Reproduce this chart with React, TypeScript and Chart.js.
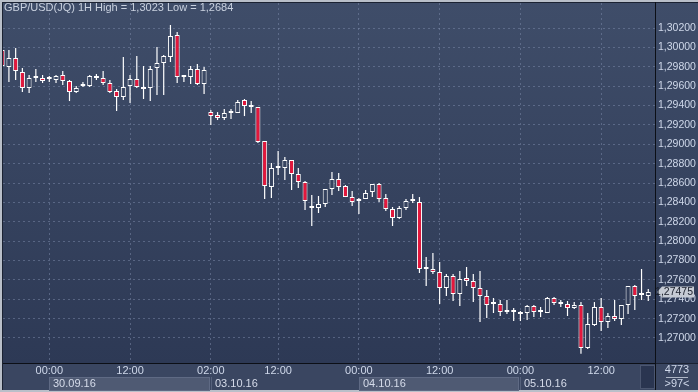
import { useEffect, useRef } from 'react';
import { Chart, registerables } from 'chart.js';

Chart.register(...registerables);

const symbol = 'GBP/USD(JQ)';
const period = '1H';
const totalBars = 4773;

const opens = [
  1.29973, 1.29797, 1.29890, 1.29746, 1.29581, 1.29684, 1.29684, 1.29674, 1.29663, 1.29715,
  1.29653, 1.29539, 1.29601, 1.29601, 1.29704, 1.29684, 1.29632, 1.29550, 1.29488, 1.29601,
  1.29674, 1.29591, 1.29581, 1.29787, 1.29839, 1.29901, 1.30128, 1.29694, 1.29694, 1.29777,
  1.29622, 1.29332, 1.29302, 1.29271, 1.29322, 1.29322, 1.29457, 1.29384, 1.29384, 1.29033,
  1.28559, 1.28755, 1.28755, 1.28837, 1.28693, 1.28610, 1.28342, 1.28342, 1.28383, 1.28538,
  1.28641, 1.28569, 1.28455, 1.28414, 1.28435, 1.28507, 1.28590, 1.28445, 1.28331, 1.28239,
  1.28342, 1.28414, 1.28404, 1.27712, 1.27712, 1.27681, 1.27516, 1.27640, 1.27454, 1.27619,
  1.27588, 1.27516, 1.27433, 1.27351, 1.27351, 1.27268, 1.27268, 1.27268, 1.27258, 1.27330,
  1.27268, 1.27258, 1.27413, 1.27371, 1.27351, 1.27309, 1.27340, 1.26897, 1.27134, 1.27320,
  1.27165, 1.27227, 1.27196, 1.27340, 1.27537, 1.27444, 1.27433,
];
const highs = [
  1.29993, 1.29973, 1.29993, 1.29787, 1.29715, 1.29777, 1.29715, 1.29704, 1.29715, 1.29756,
  1.29663, 1.29601, 1.29643, 1.29715, 1.29725, 1.29756, 1.29663, 1.29570, 1.29901, 1.29715,
  1.29911, 1.29808, 1.29808, 1.30004, 1.29921, 1.30231, 1.30159, 1.29715, 1.29808, 1.29828,
  1.29797, 1.29353, 1.29332, 1.29364, 1.29364, 1.29457, 1.29467, 1.29446, 1.29384, 1.29033,
  1.28806, 1.28930, 1.28868, 1.28837, 1.28755, 1.28621, 1.28476, 1.28466, 1.28538, 1.28713,
  1.28703, 1.28579, 1.28517, 1.28445, 1.28528, 1.28590, 1.28600, 1.28486, 1.28352, 1.28362,
  1.28435, 1.28486, 1.28455, 1.27836, 1.27877, 1.27784, 1.27660, 1.27660, 1.27691, 1.27733,
  1.27660, 1.27691, 1.27495, 1.27413, 1.27392, 1.27392, 1.27309, 1.27278, 1.27340, 1.27340,
  1.27320, 1.27423, 1.27423, 1.27392, 1.27382, 1.27371, 1.27371, 1.27258, 1.27371, 1.27413,
  1.27258, 1.27392, 1.27340, 1.27537, 1.27547, 1.27712, 1.27506,
];
const lows = [
  1.29787, 1.29643, 1.29663, 1.29539, 1.29529, 1.29643, 1.29632, 1.29643, 1.29632, 1.29612,
  1.29446, 1.29529, 1.29591, 1.29591, 1.29663, 1.29612, 1.29529, 1.29343, 1.29457, 1.29426,
  1.29581, 1.29467, 1.29446, 1.29508, 1.29508, 1.29849, 1.29632, 1.29643, 1.29622, 1.29612,
  1.29519, 1.29199, 1.29250, 1.29250, 1.29260, 1.29322, 1.29291, 1.29322, 1.29012, 1.28435,
  1.28445, 1.28682, 1.28631, 1.28528, 1.28548, 1.28321, 1.28156, 1.28290, 1.28352, 1.28476,
  1.28517, 1.28455, 1.28362, 1.28280, 1.28435, 1.28455, 1.28404, 1.28311, 1.28156, 1.28228,
  1.28321, 1.28393, 1.27671, 1.27537, 1.27660, 1.27351, 1.27433, 1.27382, 1.27330, 1.27537,
  1.27371, 1.27165, 1.27206, 1.27258, 1.27227, 1.27247, 1.27175, 1.27175, 1.27186, 1.27216,
  1.27216, 1.27258, 1.27340, 1.27320, 1.27227, 1.27299, 1.26838, 1.26886, 1.27124, 1.27072,
  1.27103, 1.27175, 1.27134, 1.27247, 1.27289, 1.27392, 1.27382,
];
const closes = [
  1.29808, 1.29890, 1.29756, 1.29581, 1.29684, 1.29684, 1.29653, 1.29674, 1.29704, 1.29653,
  1.29539, 1.29581, 1.29601, 1.29704, 1.29684, 1.29632, 1.29539, 1.29488, 1.29591, 1.29674,
  1.29591, 1.29570, 1.29777, 1.29839, 1.29911, 1.30117, 1.29694, 1.29694, 1.29777, 1.29622,
  1.29766, 1.29291, 1.29271, 1.29322, 1.29322, 1.29436, 1.29395, 1.29384, 1.29023, 1.28569,
  1.28755, 1.28755, 1.28837, 1.28693, 1.28610, 1.28414, 1.28342, 1.28383, 1.28538, 1.28641,
  1.28559, 1.28455, 1.28404, 1.28414, 1.28497, 1.28590, 1.28435, 1.28331, 1.28239, 1.28342,
  1.28414, 1.28414, 1.27712, 1.27712, 1.27681, 1.27516, 1.27640, 1.27454, 1.27609, 1.27588,
  1.27516, 1.27433, 1.27340, 1.27351, 1.27268, 1.27268, 1.27268, 1.27247, 1.27330, 1.27268,
  1.27268, 1.27413, 1.27361, 1.27351, 1.27309, 1.27340, 1.26897, 1.27144, 1.27320, 1.27165,
  1.27227, 1.27196, 1.27340, 1.27537, 1.27433, 1.27444, 1.27475,
];

const xTickIndex = [7, 19, 31, 41, 53, 65, 77, 89];
const xTickLabels = ['00:00', '12:00', '02:00', '12:00', '00:00', '12:00', '00:00', '12:00'];
const dateLabels = ['30.09.16', '03.10.16', '04.10.16', '05.10.16'];
const dateStartIndex = [7, 31, 53, 77];
const yTickValues = [
  1.27, 1.272, 1.274, 1.276, 1.278, 1.28, 1.282, 1.284, 1.286, 1.288,
  1.29, 1.292, 1.294, 1.296, 1.298, 1.3, 1.302,
];

const FONT = "'Liberation Sans Narrow', 'Liberation Sans', Arial, sans-serif";
const PLOT_TOP = '#3f4d69';
const PLOT_BOTTOM = '#2d3955';
const GRID = 'rgba(125,140,172,0.5)';
const RED = '#e3173c';
const TEXT = '#cfd8ea';

const fmt = (v: number, d: number) => v.toFixed(d).replace('.', ',');

function plotGradient(chart: any) {
  const { top, bottom } = chart.chartArea;
  const g = chart.ctx.createLinearGradient(0, top, 0, bottom);
  g.addColorStop(0, PLOT_TOP);
  g.addColorStop(1, PLOT_BOTTOM);
  return g;
}

const framePlugin = {
  id: 'frame',
  beforeDraw(chart: any) {
    const ctx = chart.ctx;
    const { left, right, top, bottom } = chart.chartArea;
    const W = chart.width;
    const H = chart.height;
    ctx.save();
    ctx.fillStyle = '#b9bfc9';
    ctx.fillRect(0, 0, W, H);
    ctx.fillStyle = '#1b2232';
    ctx.fillRect(2, 2, W - 2, H - 4);
    const g = plotGradient(chart);
    ctx.fillStyle = g;
    ctx.fillRect(left, top, right - left, bottom - top);
    ctx.fillRect(right + 1, top, W - right - 1, bottom - top);
    ctx.fillStyle = '#3a4661';
    ctx.fillRect(left, bottom + 1, W - left, H - 2 - bottom - 1);
    ctx.restore();
  },
  afterDraw(chart: any) {
    const ctx = chart.ctx;
    const { left, right, bottom } = chart.chartArea;
    const W = chart.width;
    const H = chart.height;
    const xs = chart.scales.x;
    const ys = chart.scales.y;
    ctx.save();
    ctx.font = `11px ${FONT}`;
    ctx.textBaseline = 'middle';
    ctx.textAlign = 'left';
    // date bands
    for (let k = 0; k < dateLabels.length; k++) {
      const x0 = Math.round(xs.getPixelForValue(dateStartIndex[k]));
      const x1 = k + 1 < dateLabels.length ? Math.round(xs.getPixelForValue(dateStartIndex[k + 1])) - 1 : right - 16;
      if (k % 2 === 0) {
        ctx.fillStyle = '#4f5a73';
        ctx.fillRect(x0, 377, x1 - x0, H - 2 - 377);
        ctx.strokeStyle = '#5f6a84';
        ctx.lineWidth = 1;
        ctx.strokeRect(x0 + 0.5, 377.5, x1 - x0 - 1, H - 2 - 377);
      } else {
        ctx.strokeStyle = '#56627c';
        ctx.beginPath();
        ctx.moveTo(x0 + 0.5, 377);
        ctx.lineTo(x0 + 0.5, H - 2);
        ctx.stroke();
      }
      ctx.fillStyle = '#d6dcea';
      ctx.fillText(dateLabels[k], x0 + 4, 383.5);
    }
    // dark block at right end of time axis
    ctx.fillStyle = '#2a3550';
    ctx.fillRect(right - 15, bottom + 2, 15, H - 4 - bottom - 1);
    ctx.strokeStyle = '#4b5670';
    ctx.strokeRect(right - 14.5, bottom + 2.5, 14, H - 5 - bottom - 1);
    // separator lines
    ctx.fillStyle = '#0c0f16';
    ctx.fillRect(left, bottom, right - left, 1);
    ctx.fillRect(right, 2, 1, H - 4);
    // title
    const hi = Math.max(...highs);
    const lo = Math.min(...lows);
    ctx.fillStyle = '#c9d1df';
    ctx.fillText(`${symbol} ${period} High = ${fmt(hi, 4)} Low = ${fmt(lo, 4)}`, 4, 8);
    // price marker
    const last = closes[closes.length - 1];
    const py = Math.round(ys.getPixelForValue(last));
    ctx.fillStyle = '#c6cbd4';
    ctx.beginPath();
    ctx.moveTo(right + 2, py);
    ctx.lineTo(right + 7, py - 5.5);
    ctx.lineTo(W - 4, py - 5.5);
    ctx.lineTo(W - 4, py + 5.5);
    ctx.lineTo(right + 7, py + 5.5);
    ctx.closePath();
    ctx.fill();
    ctx.fillStyle = '#1a1f2b';
    ctx.font = `10.5px ${FONT}`;
    const label = fmt(last, 5);
    const tw = ctx.measureText(label).width;
    ctx.fillText(label, Math.min(right + 7, W - 5 - tw), py + 0.5);
    // corner info
    ctx.font = `11px ${FONT}`;
    const cx = (right + W) / 2 + 0.5;
    ctx.textAlign = 'center';
    ctx.fillStyle = TEXT;
    ctx.fillText(String(totalBars), cx, 370);
    ctx.fillText(`>${closes.length}<`, cx, 383.5);
    ctx.fillStyle = '#aeb6c6';
    ctx.fillRect(cx - 11, 377, 22, 1);
    ctx.restore();
  },
};

export default function App() {
  const ref = useRef<HTMLCanvasElement | null>(null);
  useEffect(() => {
    document.body.style.margin = '0';
    const canvas = ref.current;
    if (!canvas) return;
    const idx = opens.map((_, i) => i);
    const chart = new Chart(canvas, {
      type: 'bar',
      data: {
        datasets: [
          {
            label: 'body',
            order: 0,
            data: idx.map((i) => ({ x: i, y: [opens[i], closes[i]] })) as any,
            backgroundColor: (c: any) => {
              const i = c.dataIndex;
              if (closes[i] < opens[i]) return RED;
              return c.chart.chartArea ? plotGradient(c.chart) : PLOT_TOP;
            },
            borderColor: '#ffffff',
            borderWidth: 1,
            borderSkipped: false,
            barThickness: 5,
            minBarLength: 2,
            grouped: false,
            inflateAmount: 0,
          } as any,
          {
            label: 'wick',
            order: 1,
            data: idx.map((i) => ({ x: i, y: [lows[i], highs[i]] })) as any,
            backgroundColor: '#ffffff',
            borderWidth: 0,
            barThickness: 1.2,
            grouped: false,
            inflateAmount: 0,
          } as any,
        ],
      },
      options: {
        responsive: false,
        animation: false,
        events: [],
        layout: { padding: { left: 3, top: 3, right: 0, bottom: 0 } },
        plugins: {
          legend: { display: false },
          tooltip: { enabled: false },
          title: { display: false },
        },
        scales: {
          x: {
            type: 'linear',
            min: 0.12,
            max: 97,
            offset: false,
            grid: { offset: false, color: GRID, drawTicks: false, lineWidth: 1 },
            border: { display: false, dash: [2, 3] },
            ticks: {
              padding: 1,
              color: TEXT,
              font: { family: FONT, size: 11 },
              maxRotation: 0,
              autoSkip: false,
              callback: (v: any) => {
                const k = xTickIndex.indexOf(Number(v));
                return k >= 0 ? xTickLabels[k] : '';
              },
            },
            afterBuildTicks: (s: any) => {
              s.ticks = xTickIndex.map((v) => ({ value: v }));
            },
            afterFit: (s: any) => {
              s.height = 29;
              s.paddingLeft = 0;
              s.paddingRight = 0;
            },
          },
          y: {
            type: 'linear',
            position: 'right',
            min: 1.267419,
            max: 1.304581,
            grid: { color: GRID, drawTicks: false, lineWidth: 1 },
            border: { display: false, dash: [2, 3] },
            ticks: {
              padding: 3,
              color: TEXT,
              font: { family: FONT, size: 10.5 },
              crossAlign: 'near',
              callback: (v: any) => fmt(Number(v), 5),
            },
            afterBuildTicks: (s: any) => {
              s.ticks = yTickValues.map((v) => ({ value: v }));
            },
            afterFit: (s: any) => {
              s.width = 43;
              s.paddingTop = 0;
              s.paddingBottom = 0;
            },
          },
        },
      } as any,
      plugins: [framePlugin],
    });
    return () => chart.destroy();
  }, []);
  return (
    <div style={{ width: 698, height: 392 }}>
      <canvas ref={ref} width={698} height={392} style={{ display: 'block' }} />
    </div>
  );
}
